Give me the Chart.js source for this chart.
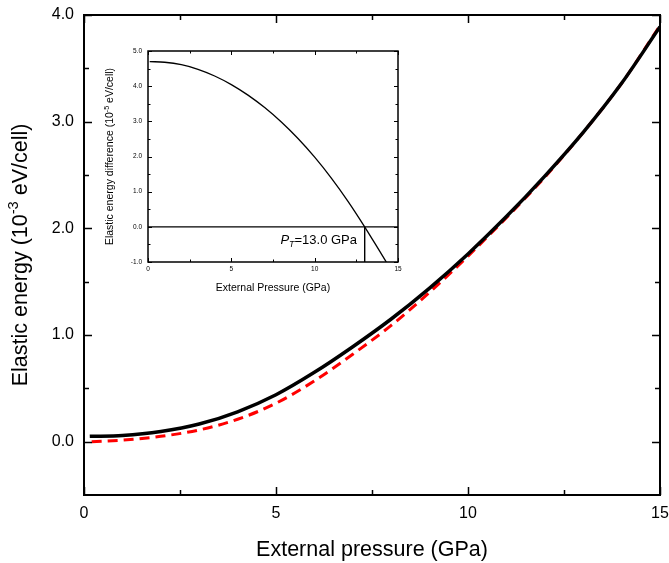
<!DOCTYPE html>
<html>
<head>
<meta charset="utf-8">
<script src="https://cdn.jsdelivr.net/npm/chart.js@4.4.1/dist/chart.umd.min.js"></script>
<style>
  html, body { margin: 0; padding: 0; background: #fff; }
  #wrap { position: relative; width: 669px; height: 563px; }
  #mainChart { position: absolute; left: 0; top: 0; }
  #insetChart { position: absolute; left: 100px; top: 40px; }
</style>
</head>
<body>
<div id="wrap">
  <canvas id="mainChart" width="669" height="563"></canvas>
  <canvas id="insetChart" width="310" height="260"></canvas>
</div>
<script>
// main panel: elastic energy vs pressure
const pressureBlack = [0.15, 1, 2, 3, 4, 5, 6, 7, 8, 9, 10, 11, 12, 13, 14, 15];
const energyBlack   = [0.05, 0.058, 0.095, 0.165, 0.28, 0.44, 0.65, 0.89, 1.15, 1.44, 1.76, 2.11, 2.49, 2.90, 3.36, 3.89];
const pressureRed   = [0.2, 1, 2, 3, 4, 5, 6, 7, 8, 9, 10, 11, 12, 13, 14, 15];
const energyRed     = [0.0, 0.015, 0.05, 0.11, 0.21, 0.36, 0.57, 0.82, 1.09, 1.40, 1.74, 2.10, 2.48, 2.90, 3.36, 3.90];

const mainXTicks = [0, 5, 10, 15];
const mainXMinor = [2.5, 7.5, 12.5];
const mainYTicks = [0, 1, 2, 3, 4];
const mainYMinor = [0.5, 1.5, 2.5, 3.5];

// inset: energy difference
const insetPressure = [0.1, 1, 2, 3, 4, 5, 6, 7, 8, 9, 10, 11, 12, 13, 14, 14.3];
const insetDiff     = [4.70, 4.68, 4.61, 4.48, 4.29, 4.045, 3.745, 3.39, 2.98, 2.51, 1.98, 1.385, 0.725, 0.0, -0.77, -1.0];
const transitionP = 13.0;

const insetXTicks = [0, 5, 10, 15];
const insetXMinor = [2.5, 7.5, 12.5];
const insetYTicks = [-1, 0, 1, 2, 3, 4, 5];
const insetYMinor = [-0.5, 0.5, 1.5, 2.5, 3.5, 4.5];

const FONT = '"Liberation Sans", Arial, Helvetica, sans-serif';

const toPts = (xs, ys) => xs.map((x, i) => ({ x: x, y: ys[i] }));

// draw text made of pieces (superscript / subscript / italic)
function drawRich(ctx, parts, size, cx, cy, rotate, align) {
  ctx.save();
  ctx.translate(cx, cy);
  if (rotate) ctx.rotate(-Math.PI / 2);
  ctx.textBaseline = 'alphabetic';
  ctx.textAlign = 'left';
  ctx.fillStyle = '#000';
  const fontOf = p => (p.italic ? 'italic ' : '') + (p.sup || p.sub ? size * 0.68 : size) + 'px ' + FONT;
  let total = 0;
  parts.forEach(p => { ctx.font = fontOf(p); total += ctx.measureText(p.t).width; });
  let x = align === 'right' ? -total : -total / 2;
  parts.forEach(p => {
    ctx.font = fontOf(p);
    let dy = 0;
    if (p.sup) dy = -size * 0.42;
    if (p.sub) dy = size * 0.25;
    ctx.fillText(p.t, x, dy);
    x += ctx.measureText(p.t).width;
  });
  ctx.restore();
}

const boxPlugin = {
  id: 'box',
  afterDraw(chart, args, o) {
    const { ctx, chartArea: a, scales } = chart;
    const x = scales.x, y = scales.y;
    ctx.save();
    ctx.strokeStyle = '#000';
    ctx.lineWidth = o.lw;
    ctx.strokeRect(a.left, a.top, a.right - a.left, a.bottom - a.top);
    ctx.lineWidth = o.tw;
    ctx.beginPath();
    const xt = (v, len) => {
      const px = Math.round(x.getPixelForValue(v)) + 0.5;
      ctx.moveTo(px, a.bottom); ctx.lineTo(px, a.bottom - len);
      ctx.moveTo(px, a.top); ctx.lineTo(px, a.top + len);
    };
    const yt = (v, len) => {
      const py = Math.round(y.getPixelForValue(v)) + 0.5;
      ctx.moveTo(a.left, py); ctx.lineTo(a.left + len, py);
      ctx.moveTo(a.right, py); ctx.lineTo(a.right - len, py);
    };
    o.xMajor.forEach(v => xt(v, o.major));
    o.xMinor.forEach(v => xt(v, o.minor));
    o.yMajor.forEach(v => yt(v, o.major));
    o.yMinor.forEach(v => yt(v, o.minor));
    ctx.stroke();
    ctx.restore();
    if (o.texts) o.texts(ctx, a);
  }
};

function axisOpts(min, max, ticks, size, pad, fmt, fit) {
  return {
    type: 'linear', min: min, max: max,
    grid: { display: false, drawTicks: false },
    border: { display: false },
    afterBuildTicks: s => { s.ticks = ticks.map(v => ({ value: v })); },
    afterFit: s => {
      fit(s);
      // let the layout padding alone decide the plot box
      s.paddingLeft = 0; s.paddingRight = 0; s.paddingTop = 0; s.paddingBottom = 0;
    },
    ticks: {
      color: '#000', padding: pad, autoSkip: false, maxRotation: 0,
      font: { family: FONT, size: size },
      callback: fmt
    }
  };
}

// main chart
new Chart(document.getElementById('mainChart').getContext('2d'), {
  type: 'scatter',
  data: {
    datasets: [
      {
        data: toPts(pressureBlack, energyBlack),
        showLine: true, borderColor: '#000', borderWidth: 3.5,
        pointRadius: 0, cubicInterpolationMode: 'monotone'
      },
      {
        data: toPts(pressureRed, energyRed),
        showLine: true, borderColor: '#ff0000', borderWidth: 3,
        borderDash: [10, 6], pointRadius: 0, cubicInterpolationMode: 'monotone'
      }
    ]
  },
  options: {
    responsive: false, animation: false, devicePixelRatio: 1,
    layout: { padding: { top: 15, right: 9, left: 0, bottom: 0 } },
    plugins: {
      legend: { display: false }, tooltip: { enabled: false },
      box: {
        lw: 2, tw: 1.5, major: 8, minor: 5,
        xMajor: mainXTicks, xMinor: mainXMinor, yMajor: mainYTicks, yMinor: mainYMinor,
        texts: (ctx, a) => {
          drawRich(ctx, [{ t: 'External pressure (GPa)' }], 21.5, (a.left + a.right) / 2, 556, false);
          drawRich(ctx, [{ t: 'Elastic energy (10' }, { t: '-3', sup: true }, { t: ' eV/cell)' }],
            21.5, 27, (a.top + a.bottom) / 2, true);
        }
      }
    },
    scales: {
      x: axisOpts(0, 15, mainXTicks, 16, 9, v => String(v), s => { s.height = 68; }),
      y: axisOpts(-0.5, 4, mainYTicks, 16, 10, v => v.toFixed(1), s => { s.width = 84; })
    }
  },
  plugins: [boxPlugin]
});

// inset chart
new Chart(document.getElementById('insetChart').getContext('2d'), {
  type: 'scatter',
  data: {
    datasets: [
      {
        data: toPts(insetPressure, insetDiff),
        showLine: true, borderColor: '#000', borderWidth: 1.3,
        pointRadius: 0, cubicInterpolationMode: 'monotone'
      },
      {
        data: [{ x: 0, y: 0 }, { x: 15, y: 0 }],
        showLine: true, borderColor: '#000', borderWidth: 1.2, pointRadius: 0
      },
      {
        data: [{ x: transitionP, y: 0 }, { x: transitionP, y: -1 }],
        showLine: true, borderColor: '#000', borderWidth: 1, pointRadius: 0
      }
    ]
  },
  options: {
    responsive: false, animation: false, devicePixelRatio: 1,
    layout: { padding: { top: 11, right: 12, left: 0, bottom: 0 } },
    plugins: {
      legend: { display: false }, tooltip: { enabled: false },
      box: {
        lw: 1.5, tw: 1, major: 4, minor: 2.5,
        xMajor: insetXTicks, xMinor: insetXMinor, yMajor: insetYTicks, yMinor: insetYMinor,
        texts: (ctx, a) => {
          drawRich(ctx, [{ t: 'External Pressure (GPa)' }], 10.5, (a.left + a.right) / 2, 251, false);
          drawRich(ctx, [{ t: 'Elastic energy difference (10' }, { t: '-5', sup: true }, { t: ' eV/cell)' }],
            10.5, 13, (a.top + a.bottom) / 2, true);
          drawRich(ctx, [{ t: 'P', italic: true }, { t: 'T', italic: true, sub: true }, { t: '=13.0 GPa' }],
            13, 257, 204, false, 'right');
        }
      }
    },
    scales: {
      x: axisOpts(0, 15, insetXTicks, 6.5, 3, v => String(v), s => { s.height = 38; }),
      y: axisOpts(-1, 5, insetYTicks, 6.5, 6, v => v.toFixed(1), s => { s.width = 48; })
    }
  },
  plugins: [boxPlugin]
});
</script>
</body>
</html>
